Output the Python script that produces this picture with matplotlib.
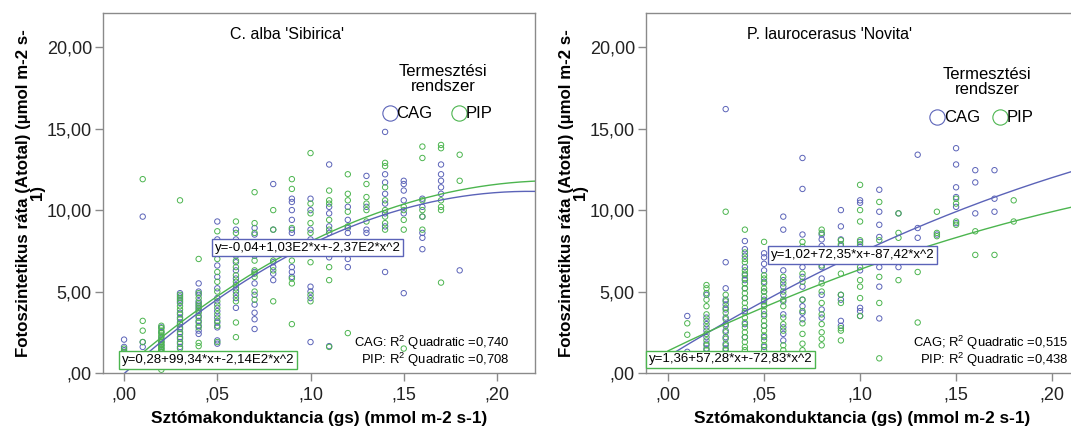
import numpy as np
import matplotlib
matplotlib.use('Agg')
import matplotlib.pyplot as plt

plt.rcParams['font.family'] = ['Liberation Sans', 'DejaVu Sans']
plt.rcParams['mathtext.fontset'] = 'custom'
plt.rcParams['mathtext.rm'] = 'Liberation Sans'

# stomatal conductance levels (one column of points per level)
gs_levels = [0.00, 0.01, 0.02, 0.03, 0.04, 0.05, 0.06, 0.07, 0.08, 0.09,
             0.10, 0.11, 0.12, 0.13, 0.14, 0.15, 0.16, 0.17, 0.18]

# C. alba 'Sibirica'
sib_cag = [
    [2.05, 1.6, 1.4, 1.2],
    [9.6, 1.9, 1.6],
    [2.8, 2.5, 2.1, 1.9, 1.7, 1.5, 1.3],
    [4.9, 4.7, 4.5, 4.3, 3.7, 3.4, 3.1, 2.8, 2.5, 2.2, 1.9, 1.6],
    [5.5, 5.0, 4.8, 4.4, 4.2, 4.0, 3.8, 3.5, 3.2, 2.9, 2.6, 2.4],
    [9.3, 8.2, 7.4, 6.6, 5.9, 5.2, 4.6, 4.2, 3.8, 3.4, 3.1, 2.8, 2.0, 1.8],
    [8.8, 8.2, 7.2, 6.8, 6.3, 5.8, 5.4, 5.0, 4.6, 4.0],
    [8.9, 8.5, 7.9, 7.2, 6.2, 5.5, 4.8, 4.2, 3.7, 3.3, 2.7],
    [11.6, 8.8, 7.3, 6.8, 6.5, 6.1, 5.7],
    [10.7, 10.5, 10.0, 9.4, 8.8, 8.6, 6.5, 6.2, 5.9],
    [10.7, 10.0, 8.8, 8.2, 5.3, 5.0, 4.6, 1.9],
    [12.8, 10.2, 9.8, 9.0, 8.6, 7.6, 7.1, 1.65],
    [10.2, 9.4, 8.9, 8.6, 7.6, 7.0, 6.5],
    [12.1, 10.2, 8.8, 8.6],
    [14.8, 12.2, 11.7, 11.0, 10.4, 9.8, 9.0, 6.2],
    [11.8, 11.6, 11.2, 10.6, 9.8, 4.9],
    [10.7, 10.2, 9.6, 8.6, 8.3, 7.6],
    [12.8, 12.2, 11.8, 11.4, 11.0],
    [6.3],
]
sib_pip = [
    [1.5, 1.3],
    [11.9, 3.2, 2.6, 1.9],
    [2.9, 2.75, 2.6, 2.45, 2.3, 2.2, 2.0, 1.9, 1.8, 1.7, 1.6, 1.5, 1.4, 1.3, 0.2],
    [10.6, 4.8, 4.6, 4.4, 4.1, 3.9, 3.6, 3.3, 3.0, 2.7, 2.4, 2.1, 1.8, 1.5],
    [7.0, 4.9, 4.6, 4.3, 4.1, 3.9, 3.7, 3.4, 3.1, 2.8, 1.85, 1.65],
    [8.7, 7.6, 7.0, 6.2, 5.6, 5.0, 4.4, 4.0, 3.6, 3.2, 2.9, 1.9],
    [9.3, 8.6, 7.6, 6.9, 6.5, 6.0, 5.6, 5.2, 4.8, 4.4, 3.1, 2.2],
    [11.1, 9.2, 8.6, 7.8, 6.9, 6.3, 6.1, 5.9, 5.0, 4.5],
    [10.0, 8.8, 7.6, 6.9, 6.3, 4.4],
    [11.9, 11.3, 8.9, 7.8, 6.9, 5.8, 5.5, 3.0],
    [13.5, 10.4, 9.8, 9.2, 8.6, 6.8, 4.8, 4.4],
    [11.2, 10.6, 10.4, 9.4, 8.8, 7.3, 6.5, 5.7, 1.6],
    [12.2, 11.0, 10.6, 9.9, 9.0, 8.0, 2.45],
    [11.6, 10.8, 10.4, 10.0, 9.3],
    [12.9, 12.7, 11.4, 10.6, 10.0, 9.6, 9.2, 8.8],
    [10.2, 10.0, 9.4, 8.8, 1.5],
    [13.9, 13.2, 10.6, 10.0, 9.6, 8.8],
    [14.0, 13.8, 10.6, 10.2, 10.0, 5.55],
    [13.4, 11.8],
]

# P. laurocerasus 'Novita'
nov_cag = [
    [],
    [3.5, 1.3],
    [4.8, 3.4, 3.0, 2.6, 2.2, 1.8, 1.5],
    [16.2, 6.8, 5.2, 4.5, 4.2, 3.9, 3.4, 3.0, 2.6, 2.2, 1.8, 1.5],
    [8.1, 7.6, 7.2, 6.5, 6.0, 5.7, 5.2, 4.6, 3.8, 3.0, 2.2],
    [7.35, 7.1, 6.7, 6.3, 5.6, 5.0, 4.5, 4.2, 3.6, 2.9, 2.2, 1.6],
    [9.6, 8.8, 6.3, 5.7, 5.3, 4.8, 4.4, 3.6, 2.8, 2.4, 2.0],
    [13.2, 11.3, 8.5, 7.4, 6.5, 5.9, 5.3, 4.5, 4.1, 3.7, 3.3],
    [8.5, 8.2, 7.8, 6.5, 5.8, 4.8, 3.9, 3.4],
    [10.0, 9.0, 8.2, 7.8, 4.8, 4.5, 3.2, 2.9],
    [10.6, 10.45, 8.05, 7.75, 7.35, 6.3, 4.0, 3.8, 3.5],
    [11.25, 9.9, 9.1, 8.35, 6.5, 5.3, 3.35],
    [9.8, 6.5],
    [13.4, 8.9, 8.3],
    [8.5],
    [13.8, 12.8, 11.4, 10.8, 10.2, 9.2],
    [12.45, 11.7, 9.8],
    [12.45, 10.7, 9.9],
    [],
]
nov_pip = [
    [],
    [3.05, 2.35],
    [5.4, 5.2, 4.9, 4.5, 4.1, 3.6, 3.2, 2.8, 2.4, 2.0, 1.7, 1.4],
    [9.9, 4.8, 4.4, 4.0, 3.7, 3.3, 2.9, 2.5, 2.1, 1.7, 1.4],
    [8.8, 7.4, 7.0, 6.8, 6.3, 6.1, 5.8, 5.5, 5.2, 4.9, 4.6, 4.3, 4.0, 3.7, 3.4,
     3.1, 2.8, 2.5, 2.2, 1.9, 1.6, 1.4],
    [8.05, 6.0, 5.8, 5.5, 5.2, 5.0, 4.7, 4.4, 4.1, 3.8, 3.5, 3.2, 2.9, 2.6, 2.3,
     2.0, 1.7, 1.4],
    [5.9, 5.5, 5.0, 4.5, 4.1, 3.4, 3.0, 2.6, 1.7, 1.4],
    [8.05, 7.75, 6.1, 5.6, 4.5, 3.8, 3.05, 2.4, 1.8, 1.4],
    [8.8, 8.6, 7.5, 7.0, 6.6, 5.5, 5.0, 4.3, 3.6, 3.0, 2.5, 2.1, 1.7],
    [8.15, 7.9, 6.1, 4.8, 4.3, 2.75, 2.6, 2.0],
    [11.55, 10.0, 9.3, 8.15, 7.9, 6.5, 5.7, 5.3, 4.6, 3.5],
    [10.5, 8.15, 6.95, 5.9, 4.3, 0.9],
    [9.8, 8.6, 8.3, 5.7],
    [6.2, 3.1],
    [9.9, 8.6, 8.4],
    [10.7, 10.4, 9.3, 9.1],
    [8.7, 7.25],
    [7.25],
    [10.6, 9.3],
]

# quadratic fit coefficients (b0, b1, b2)
sib_fit_cag = (-0.04, 103.0, -237.0)
sib_fit_pip = (0.28, 99.34, -214.0)
nov_fit_cag = (1.02, 72.35, -87.42)
nov_fit_pip = (1.36, 57.28, -72.83)

sib_eq = ["y=-0,04+1,03E2*x+-2,37E2*x^2", "y=0,28+99,34*x+-2,14E2*x^2"]
nov_eq = ["y=1,02+72,35*x+-87,42*x^2", "y=1,36+57,28*x+-72,83*x^2"]
sib_r2 = ["CAG: R$^2$ Quadratic =0,740", "PIP: R$^2$ Quadratic =0,708"]
nov_r2 = ["CAG; R$^2$ Quadratic =0,515", "PIP: R$^2$ Quadratic =0,438"]

y_ticks = [0, 5, 10, 15, 20]
y_ticklabels = [",00", "5,00", "10,00", "15,00", "20,00"]
x_ticks = [0.0, 0.05, 0.10, 0.15, 0.20]
x_ticklabels = [",00", ",05", ",10", ",15", ",20"]

BLUE = '#5b63b8'
GREEN = '#4cb54f'
SPINE = '#8a8a8a'


def flatten(cols):
    xs, ys = [], []
    for x, col in zip(gs_levels, cols):
        xs += [x] * len(col)
        ys += col
    return np.array(xs), np.array(ys)


def draw_panel(ax, title, cag, pip, fit_cag, fit_pip, eqs, eq_pos, r2, r2_pos,
               r2_ha, xlim, leg):
    for cols, c in ((cag, BLUE), (pip, GREEN)):
        xs, ys = flatten(cols)
        ax.scatter(xs, ys, s=15, facecolors='none', edgecolors=c,
                   linewidths=0.7, zorder=2)

    xx = np.linspace(0, xlim[1], 200)
    for (b0, b1, b2), c in ((fit_cag, BLUE), (fit_pip, GREEN)):
        ax.plot(xx, b0 + b1 * xx + b2 * xx ** 2, color=c, lw=1.0, zorder=3)

    for txt, (x, y), c in zip(eqs, eq_pos, (BLUE, GREEN)):
        ax.text(x, y, txt, fontsize=9.5, ha='left', va='center', zorder=5,
                bbox=dict(boxstyle='square,pad=0.22', fc='white', ec=c, lw=1.0))

    for txt, (x, y) in zip(r2, r2_pos):
        ax.text(x, y, txt, fontsize=9.4, ha=r2_ha, va='center', zorder=4)

    ax.text(leg['title_x'], 0.94, title, transform=ax.transAxes,
            fontsize=11.5, ha='center', va='center')
    ax.text(leg['x'], leg['y'], "Termesztési\nrendszer", transform=ax.transAxes,
            fontsize=12, ha='center', va='center', linespacing=0.95)
    for (mx, lab), c in zip(leg['items'], (BLUE, GREEN)):
        ax.plot([mx], [leg['iy']], marker='o', ms=11, mfc='none', mec=c,
                mew=0.8, transform=ax.transAxes, clip_on=False)
        ax.text(mx + 0.015, leg['iy'], lab, transform=ax.transAxes,
                fontsize=12, ha='left', va='center')

    ax.set_xlim(*xlim)
    ax.set_ylim(0, 22.1)
    ax.set_xticks(x_ticks)
    ax.set_xticklabels(x_ticklabels)
    ax.set_yticks(y_ticks)
    ax.set_yticklabels(y_ticklabels)
    ax.tick_params(axis='both', length=6, width=1.0, color=SPINE,
                   labelsize=13, labelcolor='#222222', pad=4)
    ax.tick_params(axis='y', pad=2)
    for sp in ax.spines.values():
        sp.set_color(SPINE)
        sp.set_linewidth(1.0)
    ax.set_xlabel("Sztómakonduktancia (gs) (mmol m-2 s-1)", fontsize=12.4,
                  fontweight='bold')
    ax.set_ylabel("Fotoszintetikus ráta (Atotal) (µmol m-2 s-\n1)", fontsize=12.2,
                  fontweight='bold', linespacing=0.9)
    ax.yaxis.set_label_coords(-0.135, 0.5)
    ax.xaxis.set_label_coords(0.5, -0.105)


fig = plt.figure(figsize=(10.71, 4.32), dpi=100)
ax1 = fig.add_axes([103 / 1071, 59 / 432, 432 / 1071, 360 / 432])
ax2 = fig.add_axes([646 / 1071, 59 / 432, 432 / 1071, 360 / 432])

draw_panel(ax1, "C. alba 'Sibirica'", sib_cag, sib_pip, sib_fit_cag, sib_fit_pip,
           sib_eq, [(0.0485, 7.7), (-0.0012, 0.8)],
           sib_r2, [(0.2065, 1.84), (0.2065, 0.8)], 'right',
           (-0.0113, 0.2204),
           dict(title_x=0.426, x=0.787, y=0.817, iy=0.722,
                items=[(0.664, 'CAG'), (0.824, 'PIP')]))

draw_panel(ax2, "P. laurocerasus 'Novita'", nov_cag, nov_pip, nov_fit_cag,
           nov_fit_pip, nov_eq, [(0.0535, 7.24), (-0.0100, 0.83)],
           nov_r2, [(0.2085, 1.84), (0.2085, 0.8)], 'right',
           (-0.0115, 0.2135),
           dict(title_x=0.424, x=0.79, y=0.808, iy=0.711,
                items=[(0.674, 'CAG'), (0.82, 'PIP')]))

fig.savefig('out.png', dpi=100)
